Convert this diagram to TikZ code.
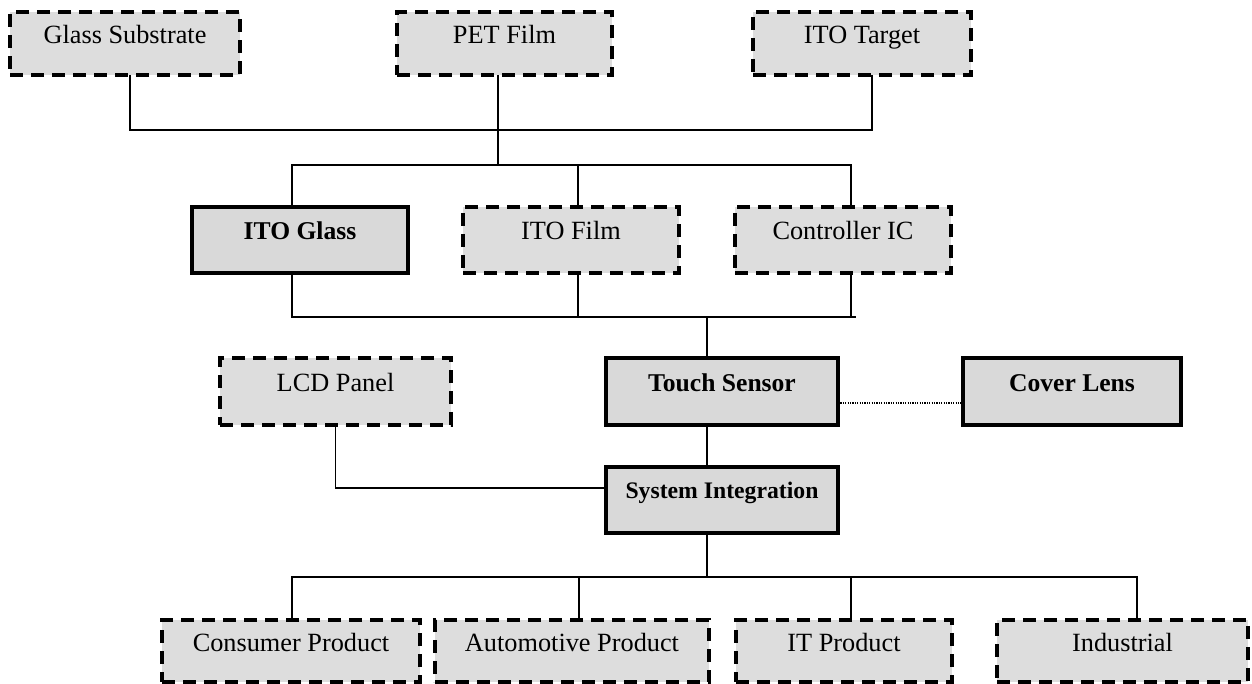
\documentclass[tikz,border=0pt]{standalone}
\usepackage{fontspec}
\setmainfont{Liberation Serif}
\definecolor{dfill}{RGB}{221,221,221}
\definecolor{sfill}{RGB}{217,217,217}
\begin{document}
\begin{tikzpicture}[x=0.5pt,y=-0.5pt,
  sz/.style 2 args={minimum width=#1*0.5pt, minimum height=#2*0.5pt, inner sep=0pt, outer sep=0pt},
  dbox/.style={rectangle, draw=black, fill=dfill, line width=1.75pt, dash pattern=on 6.5pt off 4pt},
  sbox/.style={rectangle, draw=black, fill=sfill, line width=1.75pt},
  reg/.style={font=\fontsize{13.15pt}{15pt}\selectfont, text height=0.7em, text depth=0.2em, inner sep=0pt},
  bld/.style={font=\fontsize{12.8pt}{15pt}\selectfont\bfseries, text height=0.7em, text depth=0.2em, inner sep=0pt},
  conn/.style={draw=black, line width=0.65pt},
  dotline/.style={draw=black, line width=0.6pt, dash pattern=on 0.6pt off 0.6pt}]
\useasboundingbox (0,0) rectangle (1252,684);
% top row
\node[dbox, sz={230}{63}, label={[reg, yshift=2.5pt]center:Glass Substrate}] (gs) at (125,43.5) {};
\node[dbox, sz={215}{63}, label={[reg, yshift=2.5pt]center:PET Film}] (pet) at (504.5,43.5) {};
\node[dbox, sz={218}{63}, label={[reg, yshift=2.5pt]center:ITO Target}] (tgt) at (862,43.5) {};
% second row
\node[sbox, sz={216}{66}, label={[bld, yshift=2.5pt]center:ITO Glass}] (itoglass) at (300,240) {};
\node[dbox, sz={216}{66}, label={[reg, yshift=2.5pt]center:ITO Film}] (itofilm) at (571,240) {};
\node[dbox, sz={216}{66}, label={[reg, yshift=2.5pt]center:Controller IC}] (ctrl) at (843,240) {};
% third row
\node[dbox, sz={231}{67}, label={[reg, yshift=2.5pt]center:LCD Panel}] (lcd) at (335.5,391.5) {};
\node[sbox, sz={232}{67}, label={[bld, yshift=2.5pt]center:Touch Sensor}] (touch) at (722,391.5) {};
\node[sbox, sz={218}{67}, label={[bld, yshift=2.5pt]center:Cover Lens}] (cover) at (1072,391.5) {};
\node[sbox, sz={232}{66}, label={[bld, font=\fontsize{11.85pt}{14pt}\selectfont\bfseries, yshift=3.5pt]center:System Integration}] (sysint) at (722,500) {};
% bottom row
\node[dbox, sz={258}{62}, label={[reg, yshift=2.5pt]center:Consumer Product}] (consumer) at (291,651) {};
\node[dbox, sz={274}{62}, label={[reg, yshift=2.5pt]center:Automotive Product}] (auto) at (572,651) {};
\node[dbox, sz={216}{62}, label={[reg, yshift=2.5pt]center:IT Product}] (it) at (844,651) {};
\node[dbox, sz={251}{62}, label={[reg, yshift=2.5pt]center:Industrial}] (ind) at (1122.5,651) {};
% junctions
\coordinate (j1) at (498,130);
\coordinate (j2) at (498,165);
\coordinate (j3) at (707,317);
\coordinate (jend) at (856,317);
\coordinate (j4) at (707,577);
% connectors
\draw[conn] ([xshift=2.5pt]gs.south) |- (j1) -| ([xshift=5pt]tgt.south);
\draw[conn] ([xshift=-3.25pt]pet.south) -- (j2);
\draw[conn] ([xshift=-4pt]itoglass.north) |- (j2) -| ([xshift=4pt]ctrl.north);
\draw[conn] ([xshift=3.5pt]itofilm.north) |- (j2);
\draw[conn] ([xshift=-4pt]itoglass.south) |- (jend);
\draw[conn] ([xshift=3.5pt]itofilm.south) |- (j3);
\draw[conn] ([xshift=4pt]ctrl.south) |- (j3);
\draw[conn] (j3) -- ([xshift=-7.5pt]touch.north);
\draw[conn] ([xshift=-7.5pt]touch.south) -- ([xshift=-7.5pt]sysint.north);
\draw[conn] (lcd.south) |- ([yshift=6pt]sysint.west);
\draw[dotline] ([yshift=-5.75pt]touch.east) -- ([yshift=-5.75pt]cover.west);
\draw[conn] ([xshift=-7.5pt]sysint.south) -- (j4);
\draw[conn] ([xshift=0.5pt]consumer.north) |- (j4) -| ([xshift=7.25pt]ind.north);
\draw[conn] ([xshift=3.5pt]auto.north) |- (j4);
\draw[conn] ([xshift=3.5pt]it.north) |- (j4);
\end{tikzpicture}
\end{document}
